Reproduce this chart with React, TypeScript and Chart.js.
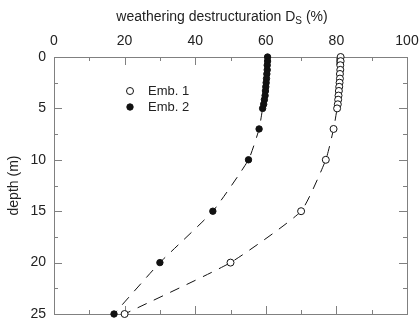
import React, { useEffect, useRef } from "react";
import { Chart, registerables } from "chart.js";
Chart.register(...registerables);

const depths = [0, 0.4, 0.8, 1.25, 1.65, 2.1, 2.5, 2.9, 3.3, 3.75, 4.15, 4.6, 5.0, 7, 10, 15, 20, 25];
const emb1 = [81.2, 81.2, 81.1, 81.1, 81.0, 81.0, 80.9, 80.8, 80.7, 80.6, 80.5, 80.4, 80.2, 79.2, 77.0, 70.0, 50.0, 20.0];
const emb2 = [60.5, 60.5, 60.4, 60.4, 60.3, 60.2, 60.1, 60.0, 59.9, 59.8, 59.6, 59.4, 59.1, 58.1, 55.1, 45.0, 30.0, 17.0];
const seriesNames = ["Emb. 1", "Emb. 2"];
const xTicks = [0, 20, 40, 60, 80, 100];
const yTicks = [0, 5, 10, 15, 20, 25];

const FONT = "'Liberation Sans', Arial, sans-serif";
const AXIS = "#808080";

const decor = {
  id: "decor",
  beforeDatasetsDraw(chart: any) {
    const { ctx, chartArea: a, scales } = chart;
    const xs = scales.x, ys = scales.y;
    ctx.save();
    ctx.strokeStyle = AXIS;
    ctx.lineWidth = 1;
    ctx.strokeRect(a.left + 0.5, a.top + 0.5, a.right - a.left, a.bottom - a.top);
    ctx.beginPath();
    for (let v = 0; v <= 100; v += 10) {
      const px = Math.round(xs.getPixelForValue(v)) + 0.5;
      const len = v % 20 === 0 ? 8 : 4;
      ctx.moveTo(px, a.top); ctx.lineTo(px, a.top + len);
      ctx.moveTo(px, a.bottom); ctx.lineTo(px, a.bottom - len);
    }
    for (let v = 0; v <= 25; v += 2.5) {
      const py = Math.round(ys.getPixelForValue(v)) + 0.5;
      const len = v % 5 === 0 ? 8 : 4;
      ctx.moveTo(a.left, py); ctx.lineTo(a.left + len, py);
      ctx.moveTo(a.right, py); ctx.lineTo(a.right - len, py);
    }
    ctx.stroke();
    ctx.restore();
  },
  afterDraw(chart: any) {
    const { ctx, chartArea: a } = chart;
    ctx.save();
    ctx.fillStyle = "#222";
    ctx.textBaseline = "alphabetic";
    const t1 = "weathering destructuration D";
    const t3 = " (%)";
    ctx.font = `14px ${FONT}`;
    const w1 = ctx.measureText(t1).width;
    const w3 = ctx.measureText(t3).width;
    ctx.font = `10px ${FONT}`;
    const w2 = ctx.measureText("S").width;
    const total = w1 + w2 + w3;
    let x = 222 - total / 2;
    const yb = 21;
    ctx.font = `14px ${FONT}`;
    ctx.textAlign = "left";
    ctx.fillText(t1, x, yb);
    x += w1;
    ctx.font = `10px ${FONT}`;
    ctx.fillText("S", x, yb + 3);
    x += w2;
    ctx.font = `14px ${FONT}`;
    ctx.fillText(t3, x, yb);
    // y title
    ctx.save();
    ctx.translate(14, (a.top + a.bottom) / 2);
    ctx.rotate(-Math.PI / 2);
    ctx.textAlign = "center";
    ctx.textBaseline = "middle";
    ctx.fillText("depth (m)", 0, 0);
    ctx.restore();
    // legend
    const ds = chart.data.datasets;
    ctx.font = `13px ${FONT}`;
    ctx.textBaseline = "middle";
    ctx.textAlign = "left";
    const ly = [91, 107];
    ds.forEach((d: any, i: number) => {
      ctx.beginPath();
      ctx.arc(130, ly[i], d.pointRadius, 0, Math.PI * 2);
      ctx.fillStyle = d.pointBackgroundColor;
      ctx.fill();
      ctx.lineWidth = d.pointBorderWidth;
      ctx.strokeStyle = d.pointBorderColor;
      ctx.stroke();
      ctx.fillStyle = "#222";
      ctx.fillText(d.label, 148, ly[i]);
    });
    ctx.restore();
  },
};

const zeroPad = (s: any) => {
  s.paddingLeft = 0;
  s.paddingRight = 0;
  s.paddingTop = 0;
  s.paddingBottom = 0;
};

export default function App() {
  const ref = useRef<HTMLCanvasElement>(null);
  useEffect(() => {
    const mk = (vals: number[]) => vals.map((v, i) => ({ x: v, y: depths[i] }));
    const common = {
      showLine: true,
      borderColor: "#111",
      borderWidth: 1,
      borderDash: [10, 8],
      tension: 0.15,
      pointRadius: 3.5,
      pointBorderColor: "#111",
      pointBorderWidth: 1,
      clip: false,
    };
    const chart = new Chart(ref.current!, {
      type: "scatter",
      data: {
        datasets: [
          { ...common, label: seriesNames[0], data: mk(emb1), pointBackgroundColor: "#fff" } as any,
          { ...common, label: seriesNames[1], data: mk(emb2), pointBackgroundColor: "#111", pointRadius: 3.2 } as any,
        ],
      },
      options: {
        responsive: false,
        animation: false,
        devicePixelRatio: 1,
        layout: { padding: { left: 0, top: 0, right: 12, bottom: 8 } },
        plugins: { legend: { display: false }, tooltip: { enabled: false } },
        scales: {
          x: {
            type: "linear",
            position: "top",
            min: 0,
            max: 100,
            afterBuildTicks: (s: any) => { s.ticks = xTicks.map((v) => ({ value: v })); },
            afterFit: (s: any) => { s.height = 57; zeroPad(s); },
            grid: { display: false, drawTicks: false },
            border: { display: false },
            ticks: { padding: 7, color: "#222", font: { family: FONT, size: 14 }, maxRotation: 0 },
          },
          y: {
            type: "linear",
            reverse: true,
            min: 0,
            max: 25,
            afterBuildTicks: (s: any) => { s.ticks = yTicks.map((v) => ({ value: v })); },
            afterFit: (s: any) => { s.width = 54; zeroPad(s); },
            grid: { display: false, drawTicks: false },
            border: { display: false },
            ticks: { padding: 8, color: "#222", font: { family: FONT, size: 14 } },
          },
        },
      },
      plugins: [decor],
    });
    return () => chart.destroy();
  }, []);
  return (
    <div style={{ position: "fixed", left: 0, top: 0, width: 419, height: 322, background: "#fff" }}>
      <canvas ref={ref} width={419} height={322} />
    </div>
  );
}
